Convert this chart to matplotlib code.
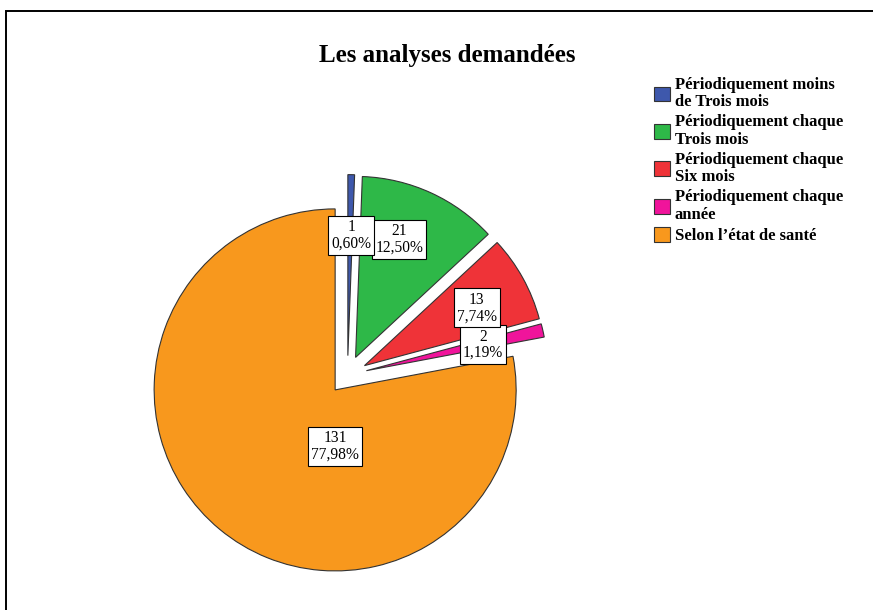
import numpy as np
import matplotlib.pyplot as plt
from matplotlib.patches import Patch, Rectangle

# --- données ---
categories = ["Périodiquement moins\nde Trois mois",
              "Périodiquement chaque\nTrois mois",
              "Périodiquement chaque\nSix mois",
              "Périodiquement chaque\nannée",
              "Selon l\u2019état de santé"]
counts = [1, 21, 13, 2, 131]
colors = ["#3e58ac", "#2eb848", "#ef3338", "#f0149b", "#f8981d"]

# placement des étiquettes (rayon, décalage angulaire en degrés)
label_r = [0.77, 0.80, 0.805, 0.767, 0.40]
label_dang = [0.4, -3.8, 1.5, 0.3, -30.0]

plt.rcParams['font.family'] = ['Liberation Serif', 'DejaVu Serif']

W, H = 873, 610
fig = plt.figure(figsize=(W / 100, H / 100), dpi=100)

# cadre
fig.add_artist(Rectangle((5.5 / W, -0.1), 1.2, 1 - 10.5 / H + 0.1,
                         transform=fig.transFigure, fill=False,
                         edgecolor='black', lw=1.4))

# axe carré centré sur le camembert
cx, cy, R = 347.5, 375.0, 181.0
lim = 1.25
side = 2 * lim * R
ax = fig.add_axes([(cx - side / 2) / W, (H - cy - side / 2) / H, side / W, side / H])

wedges, _ = ax.pie(counts, explode=[0.107] * len(counts), startangle=90,
                   counterclock=False, colors=colors, radius=1,
                   wedgeprops=dict(edgecolor='#333333', linewidth=0.8))
ax.set_xlim(-lim, lim)
ax.set_ylim(-lim, lim)
ax.set_aspect('equal')
ax.axis('off')

total = sum(counts)
cum = np.cumsum([0] + counts[:-1])
for i, c in enumerate(counts):
    mid_cw = (cum[i] + c / 2) / total * 360 + label_dang[i]
    a = np.radians(90 - mid_cw)
    pct = f"{100 * c / total:.2f}%".replace('.', ',')
    ax.text(label_r[i] * np.cos(a), label_r[i] * np.sin(a), f"{c}\n{pct}",
            ha='center', va='center', fontsize=11.2, linespacing=1.05,
            zorder=10 - i,
            bbox=dict(boxstyle='square,pad=0.2', fc='white', ec='black', lw=0.8))

# titre
fig.text(447 / W, 1 - 62 / H, "Les analyses demandées", ha='center',
         va='baseline', fontsize=18, fontweight='bold')

# légende
handles = [Patch(facecolor=col, edgecolor='#333333', lw=0.8) for col in colors]
leg = fig.legend(handles, categories, loc='upper left',
                 bbox_to_anchor=(654 / W, 1 - 77 / H), frameon=False,
                 prop=dict(weight='bold', size=12), handlelength=0.95,
                 handleheight=1.0, handletextpad=0.3, labelspacing=0.24,
                 borderpad=0, borderaxespad=0)
for t in leg.get_texts():
    t.set_linespacing(1.12)

fig.savefig("out.png", dpi=100)
